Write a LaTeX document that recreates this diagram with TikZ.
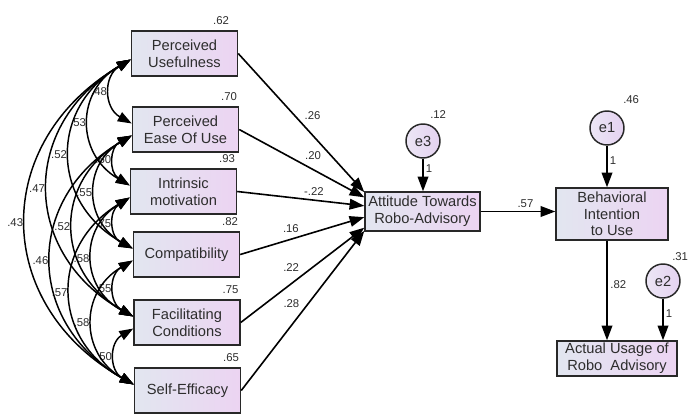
\documentclass[tikz,border=0pt]{standalone}
\usepackage{fontspec}
\setmainfont{Liberation Sans}
\usetikzlibrary{arrows.meta,calc}
\definecolor{boxleft}{RGB}{226,230,240}
\definecolor{boxright}{RGB}{236,212,242}
\definecolor{errleft}{RGB}{236,230,245}
\definecolor{errright}{RGB}{228,210,240}
\definecolor{edgegray}{RGB}{40,40,40}
\definecolor{txtgray}{RGB}{45,45,45}
\begin{document}
\begin{tikzpicture}[x=0.75pt,y=-0.75pt,
    var/.style={draw=edgegray, line width=1.1pt, left color=boxleft, right color=boxright,
      minimum width=79.5pt, minimum height=33.75pt, inner sep=1pt, align=center,
      text=txtgray, font=\fontsize{11}{12.5}\selectfont},
    err/.style={circle, draw=edgegray, line width=1.1pt, left color=errleft, right color=errright,
      minimum size=25.5pt, inner sep=0pt, text=txtgray, font=\fontsize{11}{12}\selectfont},
    lbl/.style={font=\fontsize{8.5}{9}\selectfont, text=txtgray, inner sep=1.5pt},
    reg/.style={-{Triangle[length=11pt,width=8pt]}, line width=1.2pt},
    cov/.style={{Triangle[length=10.5pt,width=7.5pt]}-{Triangle[length=10.5pt,width=7.5pt]}, line width=1.1pt}]
    \useasboundingbox (0,0) rectangle (696,414);
    % 
    \node[var, label={[lbl, anchor=south east, xshift=-5.25pt, yshift=2.6pt]north east:.62}] (PU) at (184.5,53.5) {Perceived\\Usefulness};
    % 
    \node[var, label={[lbl, anchor=south east, yshift=2.6pt]north east:.70}] (PEOU) at (185.5,129.5) {Perceived\\Ease Of Use};
    % 
    \node[var, label={[lbl, anchor=south east, yshift=2.6pt]north east:.93}] (IM) at (183.5,191.5) {Intrinsic\\motivation};
    % 
    \node[var, label={[lbl, anchor=south east, yshift=2.6pt]north east:.82}] (COMP) at (186.5,254.5) {Compatibility};
    % 
    \node[var, label={[lbl, anchor=south east, yshift=2.6pt]north east:.75}] (FC) at (187,322.5) {Facilitating\\Conditions};
    % 
    \node[var, label={[lbl, anchor=south east, yshift=2.6pt]north east:.65}] (SE) at (187.5,390.5) {Self-Efficacy};
    %%%%%%%%%%%%%%%%%%%%%% 
    \node[var, minimum width=86.25pt, minimum height=29.25pt] (ATT) at (422.5,211.5) {Attitude Towards\\Robo-Advisory};
    % 
    \node[var, minimum width=84pt, minimum height=39pt] (BI) at (612,214) {Behavioral\\Intention\\to Use};
    % 
    \node[var, minimum width=90pt, minimum height=26.25pt] (AU) at (617,358.5) {Actual Usage of\\Robo\ \ Advisory};
    %%%%%%%%%%%%%%%%%%%%%% 
    \node[err, label={[lbl, anchor=south west, xshift=3.75pt, yshift=1.9pt]north:.12}] (e3) at (423,141) {e3};
    % 
    \node[err, label={[lbl, anchor=south west, xshift=10.5pt, yshift=3.4pt]north:.46}] (e1) at (607,128) {e1};
    % 
    \node[err, label={[lbl, anchor=south west, xshift=5.25pt]north:.31}] (e2) at (663,281) {e2};
    %%%%%%%%%%%%%%%%%%%%%% 
    \foreach \a/\b/\r in {PU/PEOU/.48, PEOU/IM/.60, IM/COMP/.75, COMP/FC/.55, FC/SE/.50,
        PU/IM/.53, PEOU/COMP/.55, IM/FC/.58, COMP/SE/.58,
        PU/COMP/.52, PEOU/FC/.52, IM/SE/.57,
        PU/FC/.47, PEOU/SE/.46, PU/SE/.43}
      \draw[cov] ([yshift=-4.5pt]\a.west) to[bend right=60, looseness=1.28]
        node[lbl, midway, anchor=east, inner sep=2pt] {\r} ([yshift=4.5pt]\b.west);
    %%%%%%%%%%%%%%%%%%%%%% 
    \foreach \s/\f/\c/\p in {PU/0.02/.26/south west, PEOU/0.15/.20/south west, IM/0.36/-.22/south west,
        COMP/0.64/.16/south east, FC/0.9/.22/south east, SE/0.98/.28/south east}
      \draw[reg] (\s.east) -- node[lbl, pos=0.5, anchor=\p, inner sep=2pt] {\c}
        ($(ATT.north west)!\f!(ATT.south west)$);
    %%%%%%%%%%%%%%%%%%%%%% 
    \draw[reg] (e3) -- node[lbl, pos=0.3, right] {1} (e3 |- ATT.north);
    % 
    \draw[reg] (ATT.east) -- node[lbl, pos=0.6, above, inner sep=2pt] {.57} (ATT.east -| BI.west);
    % 
    \draw[reg] (e1) -- node[lbl, pos=0.35, right] {1} (e1 |- BI.north);
    % 
    \draw[reg] (BI.south -| e1) -- node[lbl, pos=0.44, right, inner sep=2pt] {.82} (AU.north -| e1);
    % 
    \draw[reg] (e2) -- node[lbl, pos=0.35, right] {1} (e2 |- AU.north);
\end{tikzpicture}
\end{document}
